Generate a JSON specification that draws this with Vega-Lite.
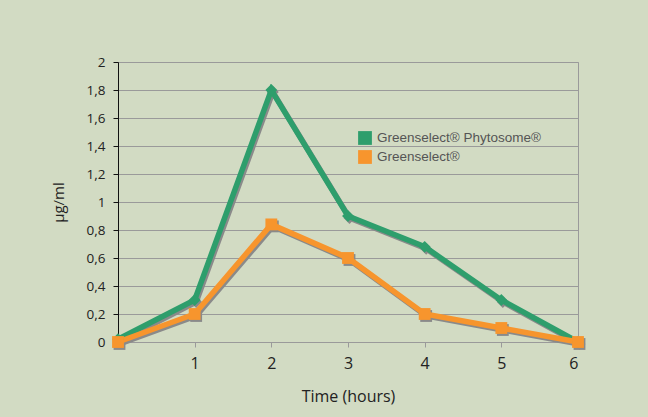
{
  "$schema": "https://vega.github.io/schema/vega-lite/v6.json",
  "width": 460,
  "height": 280,
  "autosize": {"type": "none"},
  "padding": {"left": 118, "top": 62, "right": 70, "bottom": 75},
  "background": "#d2dbc3",
  "config": {
    "view": {"stroke": "#9a9a9a", "strokeWidth": 1},
    "font": "Open Sans"
  },
  "data": {
    "values": [
      {"t": 0, "v": 0.02, "s": "Greenselect® Phytosome®"},
      {"t": 1, "v": 0.3, "s": "Greenselect® Phytosome®"},
      {"t": 2, "v": 1.8, "s": "Greenselect® Phytosome®"},
      {"t": 3, "v": 0.9, "s": "Greenselect® Phytosome®"},
      {"t": 4, "v": 0.68, "s": "Greenselect® Phytosome®"},
      {"t": 5, "v": 0.3, "s": "Greenselect® Phytosome®"},
      {"t": 6, "v": 0.0, "s": "Greenselect® Phytosome®"},
      {"t": 0, "v": 0.0, "s": "Greenselect®"},
      {"t": 1, "v": 0.2, "s": "Greenselect®"},
      {"t": 2, "v": 0.84, "s": "Greenselect®"},
      {"t": 3, "v": 0.6, "s": "Greenselect®"},
      {"t": 4, "v": 0.2, "s": "Greenselect®"},
      {"t": 5, "v": 0.1, "s": "Greenselect®"},
      {"t": 6, "v": 0.0, "s": "Greenselect®"}
    ]
  },
  "encoding": {
    "x": {
      "field": "t", "type": "quantitative",
      "scale": {"domain": [0, 6], "nice": false},
      "axis": {
        "values": [1, 2, 3, 4, 5, 6],
        "grid": false,
        "title": "Time (hours)",
        "titleFontSize": 16, "titleFontWeight": "normal", "titleColor": "#222",
        "titlePadding": 17,
        "labelFontSize": 16, "labelColor": "#222", "labelPadding": 8,
        "domainColor": "#9a9a9a", "tickColor": "#9a9a9a", "tickSize": 5
      }
    },
    "y": {
      "field": "v", "type": "quantitative",
      "scale": {"domain": [0, 2], "nice": false},
      "axis": {
        "values": [0, 0.2, 0.4, 0.6, 0.8, 1, 1.2, 1.4, 1.6, 1.8, 2],
        "labelExpr": "replace(format(datum.value, '~g'), '.', ',')",
        "title": "µg/ml",
        "titleFontSize": 15, "titleFontWeight": "normal", "titleColor": "#222",
        "titlePadding": 20,
        "labelFontSize": 13.5, "labelColor": "#222", "labelPadding": 8,
        "domainColor": "#111", "tickColor": "#111", "tickSize": 5,
        "grid": true, "gridColor": "#9a9a9a", "gridWidth": 1
      }
    }
  },
  "layer": [
    {
      "mark": {"type": "line", "strokeWidth": 5.5, "color": "#8a8a8a", "xOffset": 1.5, "yOffset": 2},
      "encoding": {"detail": {"field": "s"}}
    },
    {
      "transform": [{"filter": "datum.s == 'Greenselect® Phytosome®'"}],
      "mark": {"type": "point", "shape": "diamond", "filled": true, "opacity": 1, "color": "#8a8a8a", "size": 140, "xOffset": 1.5, "yOffset": 2}
    },
    {
      "transform": [{"filter": "datum.s == 'Greenselect®'"}],
      "mark": {"type": "point", "shape": "square", "filled": true, "opacity": 1, "color": "#8a8a8a", "size": 140, "xOffset": 1.5, "yOffset": 2}
    },
    {
      "mark": {"type": "line", "strokeWidth": 5.5},
      "encoding": {
        "color": {
          "field": "s", "type": "nominal",
          "scale": {"domain": ["Greenselect® Phytosome®", "Greenselect®"], "range": ["#2e9e6c", "#f7952d"]},
          "legend": {
            "title": null, "orient": "none", "legendX": 240, "legendY": 69,
            "symbolType": "square", "symbolSize": 190, "symbolStrokeWidth": 0,
            "labelFont": "Liberation Sans", "labelFontSize": 13.5, "labelColor": "#555",
            "labelLimit": 300,
            "rowPadding": 5, "labelOffset": 5
          }
        }
      }
    },
    {
      "transform": [{"filter": "datum.s == 'Greenselect® Phytosome®'"}],
      "mark": {"type": "point", "shape": "diamond", "filled": true, "opacity": 1, "size": 140},
      "encoding": {"color": {"field": "s", "type": "nominal"}}
    },
    {
      "transform": [{"filter": "datum.s == 'Greenselect®'"}],
      "mark": {"type": "point", "shape": "square", "filled": true, "opacity": 1, "size": 140},
      "encoding": {"color": {"field": "s", "type": "nominal"}}
    }
  ]
}
